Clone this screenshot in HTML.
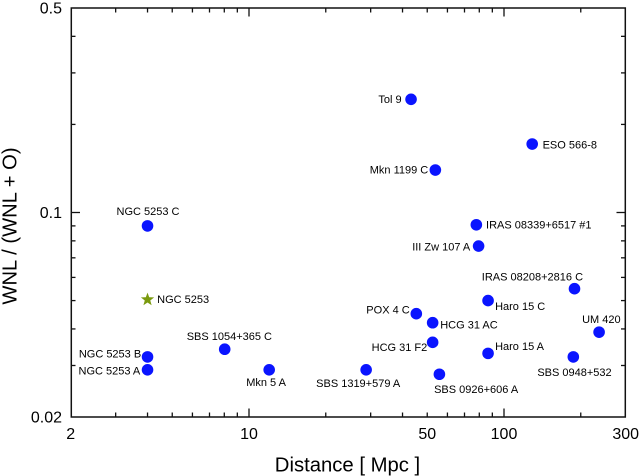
<!DOCTYPE html>
<html>
<head>
<meta charset="utf-8">
<style>
html,body{margin:0;padding:0;background:#fff;}
svg{display:block;font-family:"Liberation Sans",sans-serif;}
</style>
</head>
<body>
<svg id="chart" width="639" height="476" viewBox="0 0 639 476" xmlns="http://www.w3.org/2000/svg">
  <rect x="71.3" y="8" width="554" height="409" fill="none" stroke="#111" stroke-width="1.5"/>
  <text x="347.5" y="471.5" font-size="20.3" text-anchor="middle" fill="#000">Distance [ Mpc ]</text>
  <text transform="translate(16.5,226) rotate(-90)" font-size="20.2" text-anchor="middle" fill="#000">WNL / (WNL + O)</text>
</svg>
<script>
var galaxyNames = ["Tol 9","ESO 566-8","Mkn 1199 C","IRAS 08339+6517 #1","III Zw 107 A","IRAS 08208+2816 C","Haro 15 C","POX 4 C","HCG 31 AC","HCG 31 F2","UM 420","Haro 15 A","SBS 0948+532","SBS 0926+606 A","SBS 1319+579 A","Mkn 5 A","SBS 1054+365 C","NGC 5253 A","NGC 5253 B","NGC 5253 C"];
var distances = [43.2,129,53.8,77.9,79.5,189,86.6,45.3,52.5,52.5,236,86.6,187,55.8,28.8,12.0,8.03,4.0,4.0,4.0];
var ratios = [0.2437,0.1714,0.1397,0.0908,0.0768,0.0549,0.05,0.0451,0.042,0.036,0.039,0.033,0.0321,0.028,0.029,0.029,0.0341,0.029,0.0321,0.09];
var starName = ["NGC 5253"];
var starDistance = [4.0];
var starRatio = [0.0504];
var xTickLabels = [2,10,50,100,300];
var yTickLabels = [0.5,0.1,0.02];
var xMinorTicks = [3,4,5,6,7,8,9,20,30,40,50,60,70,80,90,200];
var xMajorTicks = [10,100];
var yMinorTicks = [0.4,0.3,0.2,0.09,0.08,0.07,0.06,0.05,0.04,0.03];
var yMajorTicks = [0.1];

var labelDx = [-32.7,10.4,-65.6,9.7,-66.4,-92.7,7,-50,7.6,-61,-17,7,-36,-5.3,-50,-23,-38,-69,-68.7,-31];
var labelDy = [3.7,4.6,3.3,3.6,4.7,-8,9.3,-0.4,5.6,8.7,-9,-3.3,19,18.7,17,16.3,-9,4.6,0.4,-11];

var NS = "http://www.w3.org/2000/svg";
var svg = document.getElementById("chart");
function xScale(v){ return 249 + 255 * (Math.log10(v) - 1); }
function yScale(v){ return 212.5 - 292.6 * (Math.log10(v) + 1); }
function make(tag){ return document.createElementNS(NS, tag); }
function drawLine(el, x1, y1, x2, y2, w){
  el.setAttribute("x1", x1);
  el.setAttribute("y1", y1);
  el.setAttribute("x2", x2);
  el.setAttribute("y2", y2);
  el.setAttribute("stroke", "#111");
  el.setAttribute("stroke-width", w);
  svg.appendChild(el);
}
function drawText(el, x, y, size, anchor, str){
  el.setAttribute("x", x);
  el.setAttribute("y", y);
  el.setAttribute("font-size", size);
  el.setAttribute("text-anchor", anchor);
  el.setAttribute("fill", "#000");
  el.textContent = str;
  svg.appendChild(el);
}
function xTicks(values, len){
  values.forEach(function(v){
    var px = xScale(v);
    var top = make("line");
    
    
    drawLine(top, px, 8, px, 8 + len, 1.3);
    var bottom = make("line");
    
    
    drawLine(bottom, px, 417, px, 417 - len, 1.3);
  });
}
function yTicks(values, len){
  values.forEach(function(v){
    var py = yScale(v);
    var left = make("line");
    
    
    drawLine(left, 71, py, 71 + len, py, 1.3);
    var right = make("line");
    
    
    drawLine(right, 625.5, py, 625.5 - len, py, 1.3);
  });
}
xTicks(xMinorTicks, 4.5);
xTicks(xMajorTicks, 8.5);
yTicks(yMinorTicks, 4.5);
yTicks(yMajorTicks, 9);

xTickLabels.forEach(function(v){
  var t = make("text");
  
  
  drawText(t, xScale(v), 439, 16, "middle", String(v));
});
yTickLabels.forEach(function(v){
  var t = make("text");
  
  
  drawText(t, 62, yScale(v) + 5.5, 16, "end", String(v));
});

galaxyNames.forEach(function(name, i){
  var px = xScale(distances[i]);
  var py = yScale(ratios[i]);
  var dot = make("circle");
  
  
  dot.setAttribute("cx", px);
  dot.setAttribute("cy", py);
  dot.setAttribute("r", 5.8);
  dot.setAttribute("fill", "#0a14ff");
  svg.appendChild(dot);
  var label = make("text");
  
  
  drawText(label, px + labelDx[i], py + labelDy[i], 11, "start", name);
});

starName.forEach(function(name, i){
  var px = xScale(starDistance[i]);
  var py = yScale(starRatio[i]);
  var pts = [];
  for (var k = 0; k < 10; k++) {
    var r = k % 2 === 0 ? 7 : 2.9;
    var a = -Math.PI / 2 + k * Math.PI / 5;
    pts.push((px + r * Math.cos(a)).toFixed(2) + "," + (py + r * Math.sin(a)).toFixed(2));
  }
  var star = make("polygon");
  
  
  star.setAttribute("points", pts.join(" "));
  star.setAttribute("fill", "#7a9a0e");
  svg.appendChild(star);
  var label = make("text");
  
  
  drawText(label, px + 9.6, py + 3.6, 11, "start", name);
});
</script>
</body>
</html>
